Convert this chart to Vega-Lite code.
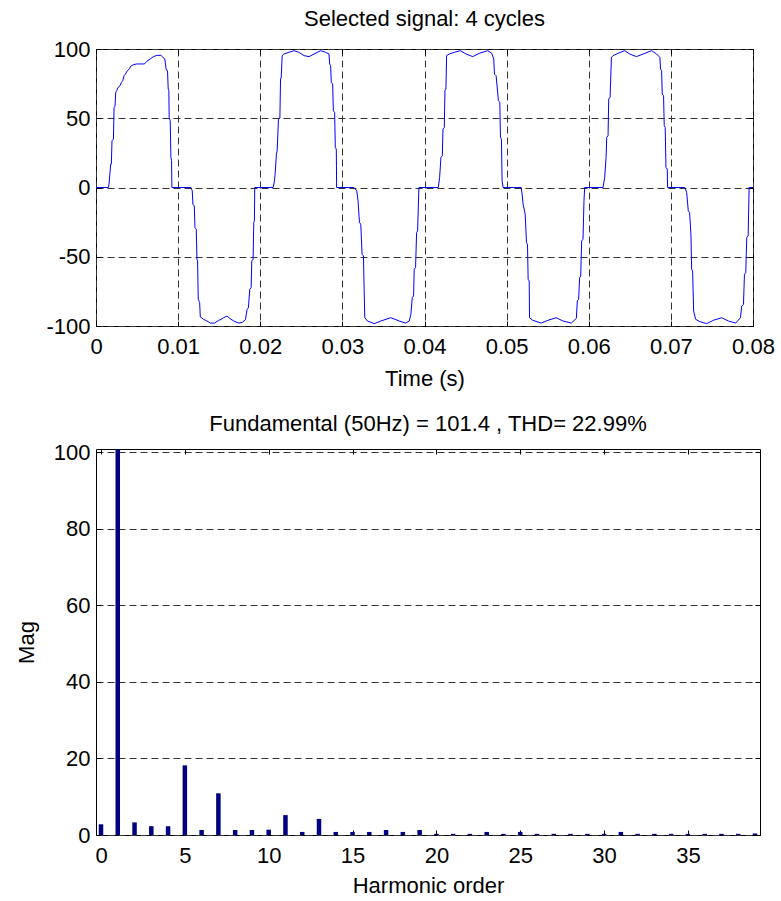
{
  "$schema": "https://vega.github.io/schema/vega-lite/v6.json",
  "background": "white",
  "padding": {"left": 14, "top": 7, "right": 5, "bottom": 5},
  "spacing": 123,
  "bounds": "flush",
  "config": {
    "font": "Liberation Sans",
    "view": {"stroke": "black", "strokeWidth": 1},
    "axis": {
      "labelFont": "Liberation Sans", "labelFontSize": 22, "labelColor": "black", "labelFlush": false,
      "titleFont": "Liberation Sans", "titleFontSize": 22, "titleFontWeight": "normal", "titleColor": "black",
      "tickColor": "black", "tickSize": -5,
      "domain": false,
      "gridColor": "#333333", "gridDash": [7, 4], "gridOpacity": 1, "gridWidth": 1
    },
    "axisX": {"labelPadding": 15},
    "axisY": {"labelPadding": 11},
    "title": {"font": "Liberation Sans", "fontSize": 22, "fontWeight": "normal", "color": "black", "anchor": "middle"}
  },
  "vconcat": [
    {
      "width": 657,
      "height": 277,
      "title": {"text": "Selected signal: 4 cycles", "offset": 7},
      "data": {"values": [
        {"t":0,"v":0},{"t":0.00151,"v":0},{"t":0.00159,"v":2.4},{"t":0.00179,"v":16.9},{"t":0.00187,"v":16.9},{"t":0.00195,"v":33.7},{"t":0.00212,"v":34.9},{"t":0.0022,"v":57.8},{"t":0.00232,"v":58.8},{"t":0.0024,"v":68.7},{"t":0.00252,"v":69.9},{"t":0.00269,"v":72.3},{"t":0.00293,"v":73.5},{"t":0.00309,"v":75.9},{"t":0.00326,"v":77.1},{"t":0.00342,"v":80.7},{"t":0.00358,"v":81.9},{"t":0.00383,"v":84.4},{"t":0.00407,"v":85.6},{"t":0.00423,"v":87.6},{"t":0.00456,"v":88.7},{"t":0.00497,"v":89.2},{"t":0.0059,"v":89.2},{"t":0.00619,"v":91.1},{"t":0.00659,"v":92.8},{"t":0.007,"v":94.5},{"t":0.00741,"v":95.4},{"t":0.0079,"v":95.4},{"t":0.00814,"v":94.0},{"t":0.00838,"v":92.8},{"t":0.00855,"v":84.8},{"t":0.00871,"v":84.4},{"t":0.00879,"v":71.1},{"t":0.00887,"v":69.9},{"t":0.00891,"v":50.6},{"t":0.00904,"v":48.2},{"t":0.00912,"v":21.7},{"t":0.0092,"v":19.3},{"t":0.00924,"v":0},{"t":0.01156,"v":0},{"t":0.01172,"v":-2.4},{"t":0.0118,"v":-12.1},{"t":0.01197,"v":-13.3},{"t":0.01205,"v":-28.9},{"t":0.01221,"v":-30.1},{"t":0.01229,"v":-51.8},{"t":0.01237,"v":-53.0},{"t":0.01245,"v":-80.7},{"t":0.01262,"v":-83.1},{"t":0.0127,"v":-93.5},{"t":0.01311,"v":-95.2},{"t":0.01351,"v":-96.4},{"t":0.01392,"v":-97.9},{"t":0.01441,"v":-97.9},{"t":0.01494,"v":-96.0},{"t":0.01555,"v":-94.0},{"t":0.01595,"v":-92.8},{"t":0.01628,"v":-94.5},{"t":0.01677,"v":-96.4},{"t":0.01738,"v":-97.9},{"t":0.01779,"v":-97.4},{"t":0.01819,"v":-95.5},{"t":0.0184,"v":-88.0},{"t":0.01856,"v":-86.8},{"t":0.01872,"v":-73.5},{"t":0.01889,"v":-72.3},{"t":0.01897,"v":-53.0},{"t":0.01913,"v":-51.8},{"t":0.01921,"v":-25.3},{"t":0.01929,"v":-24.1},{"t":0.01933,"v":0},
        {"t":0.02157,"v":0},{"t":0.02173,"v":4.8},{"t":0.02181,"v":9.6},{"t":0.02197,"v":24.1},{"t":0.02206,"v":26.5},{"t":0.02222,"v":49.4},{"t":0.02239,"v":50.1},{"t":0.02247,"v":78.3},{"t":0.02255,"v":79.1},{"t":0.02267,"v":95.2},{"t":0.02288,"v":96.4},{"t":0.02349,"v":97.6},{"t":0.0241,"v":98.8},{"t":0.02471,"v":97.6},{"t":0.02533,"v":95.2},{"t":0.02594,"v":94.5},{"t":0.02655,"v":96.4},{"t":0.02736,"v":98.8},{"t":0.02796,"v":97.6},{"t":0.02837,"v":96.4},{"t":0.02845,"v":89.2},{"t":0.02857,"v":88.0},{"t":0.02865,"v":75.9},{"t":0.02882,"v":74.7},{"t":0.0289,"v":55.4},{"t":0.02906,"v":54.2},{"t":0.02914,"v":28.9},{"t":0.02926,"v":27.7},{"t":0.0293,"v":0},{"t":0.03142,"v":0},{"t":0.03175,"v":-2.4},{"t":0.03191,"v":-9.6},{"t":0.03208,"v":-25.3},{"t":0.03224,"v":-26.5},{"t":0.0324,"v":-48.2},{"t":0.03257,"v":-49.4},{"t":0.03265,"v":-73.5},{"t":0.03273,"v":-94.0},{"t":0.03305,"v":-96.4},{"t":0.03387,"v":-98.3},{"t":0.03468,"v":-96.4},{"t":0.0359,"v":-94.0},{"t":0.03692,"v":-96.4},{"t":0.03773,"v":-97.9},{"t":0.03814,"v":-96.4},{"t":0.03834,"v":-91.6},{"t":0.03851,"v":-79.5},{"t":0.03867,"v":-78.3},{"t":0.03875,"v":-59.0},{"t":0.03891,"v":-57.8},{"t":0.03904,"v":-32.5},{"t":0.03916,"v":-31.3},{"t":0.03932,"v":0},
        {"t":0.04168,"v":0},{"t":0.04184,"v":7.2},{"t":0.042,"v":21.7},{"t":0.04217,"v":22.9},{"t":0.04225,"v":42.2},{"t":0.04241,"v":43.4},{"t":0.04249,"v":69.9},{"t":0.04261,"v":71.1},{"t":0.04269,"v":95.2},{"t":0.04302,"v":96.4},{"t":0.04363,"v":97.6},{"t":0.04436,"v":98.8},{"t":0.04506,"v":96.4},{"t":0.04587,"v":94.5},{"t":0.04668,"v":96.9},{"t":0.0477,"v":98.8},{"t":0.04819,"v":96.9},{"t":0.04843,"v":92.8},{"t":0.04852,"v":81.9},{"t":0.04872,"v":80.7},{"t":0.049,"v":62.7},{"t":0.04917,"v":61.5},{"t":0.04925,"v":36.2},{"t":0.04937,"v":34.9},{"t":0.04945,"v":4.8},{"t":0.04957,"v":0},{"t":0.05177,"v":0},{"t":0.05189,"v":-4.8},{"t":0.05201,"v":-12.1},{"t":0.05226,"v":-19.3},{"t":0.05242,"v":-39.8},{"t":0.05254,"v":-41.0},{"t":0.05262,"v":-66.3},{"t":0.05275,"v":-67.5},{"t":0.05279,"v":-94.0},{"t":0.05319,"v":-95.9},{"t":0.05421,"v":-97.9},{"t":0.05503,"v":-95.9},{"t":0.05604,"v":-94.0},{"t":0.05686,"v":-96.4},{"t":0.05788,"v":-97.9},{"t":0.05849,"v":-94.5},{"t":0.05861,"v":-81.9},{"t":0.05877,"v":-80.7},{"t":0.05889,"v":-65.1},{"t":0.05902,"v":-63.9},{"t":0.05914,"v":-38.6},{"t":0.0593,"v":-37.4},{"t":0.05942,"v":-9.6},{"t":0.0595,"v":0},
        {"t":0.06174,"v":0},{"t":0.06194,"v":7.2},{"t":0.06211,"v":21.7},{"t":0.06219,"v":36.2},{"t":0.06235,"v":37.4},{"t":0.06243,"v":63.9},{"t":0.0626,"v":65.1},{"t":0.06276,"v":94.0},{"t":0.06296,"v":95.2},{"t":0.06357,"v":96.9},{"t":0.06438,"v":98.8},{"t":0.06499,"v":96.4},{"t":0.06581,"v":94.5},{"t":0.06663,"v":96.4},{"t":0.06764,"v":98.8},{"t":0.06826,"v":96.4},{"t":0.06866,"v":94.0},{"t":0.06874,"v":85.6},{"t":0.06887,"v":84.4},{"t":0.06895,"v":67.5},{"t":0.06911,"v":66.3},{"t":0.06919,"v":44.6},{"t":0.06931,"v":43.4},{"t":0.0694,"v":14.5},{"t":0.06956,"v":13.3},{"t":0.0696,"v":0},{"t":0.07171,"v":0},{"t":0.07192,"v":-3.6},{"t":0.07212,"v":-16.9},{"t":0.07228,"v":-18.1},{"t":0.07244,"v":-33.7},{"t":0.07253,"v":-59.0},{"t":0.07265,"v":-60.3},{"t":0.07277,"v":-89.2},{"t":0.07302,"v":-95.2},{"t":0.07355,"v":-96.9},{"t":0.07436,"v":-98.3},{"t":0.07517,"v":-95.9},{"t":0.07619,"v":-94.0},{"t":0.077,"v":-96.4},{"t":0.0779,"v":-97.9},{"t":0.07847,"v":-94.0},{"t":0.07863,"v":-85.6},{"t":0.07884,"v":-84.4},{"t":0.07896,"v":-62.7},{"t":0.07912,"v":-61.5},{"t":0.07924,"v":-36.2},{"t":0.07941,"v":-34.9},{"t":0.07953,"v":0},{"t":0.08,"v":0}
      ]},
      "layer": [
        {
          "mark": {"type": "line", "color": "#0000FF", "strokeWidth": 1, "clip": true},
          "encoding": {
            "x": {"field": "t", "type": "quantitative", "scale": {"domain": [0, 0.08], "nice": false, "zero": false},
                  "axis": {"values": [0, 0.01, 0.02, 0.03, 0.04, 0.05, 0.06, 0.07, 0.08], "labelExpr": "'' + datum.value", "title": "Time (s)", "titlePadding": 11, "grid": true}},
            "y": {"field": "v", "type": "quantitative", "scale": {"domain": [-100, 100], "nice": false},
                  "axis": {"values": [-100, -50, 0, 50, 100], "labelExpr": "'' + datum.value", "title": null, "grid": true}}
          }
        },
        {
          "mark": {"type": "point", "opacity": 0},
          "encoding": {
            "x": {"field": "t", "type": "quantitative", "scale": {"domain": [0, 0.08], "nice": false, "zero": false},
                  "axis": {"orient": "top", "values": [0, 0.01, 0.02, 0.03, 0.04, 0.05, 0.06, 0.07, 0.08], "labels": false, "title": null, "grid": false}},
            "y": {"field": "v", "type": "quantitative", "scale": {"domain": [-100, 100], "nice": false},
                  "axis": {"orient": "right", "values": [-100, -50, 0, 50, 100], "labels": false, "title": null, "grid": false}}
          }
        }
      ],
      "resolve": {"axis": {"x": "independent", "y": "independent"}}
    },
    {
      "width": 664,
      "height": 386,
      "title": {"text": "Fundamental (50Hz) = 101.4 , THD= 22.99%", "offset": 5},
      "data": {"values": [
        {"h":0,"mag":2.8},{"h":1,"mag":101.4},{"h":2,"mag":3.3},{"h":3,"mag":2.3},{"h":4,"mag":2.3},{"h":5,"mag":18.2},{"h":6,"mag":1.3},{"h":7,"mag":10.9},{"h":8,"mag":1.3},{"h":9,"mag":1.3},
        {"h":10,"mag":1.4},{"h":11,"mag":5.2},{"h":12,"mag":0.8},{"h":13,"mag":4.2},{"h":14,"mag":0.8},{"h":15,"mag":0.8},{"h":16,"mag":0.8},{"h":17,"mag":1.3},{"h":18,"mag":0.8},{"h":19,"mag":1.3},
        {"h":20,"mag":0.3},{"h":21,"mag":0.3},{"h":22,"mag":0.3},{"h":23,"mag":0.8},{"h":24,"mag":0.3},{"h":25,"mag":0.8},{"h":26,"mag":0.3},{"h":27,"mag":0.3},{"h":28,"mag":0.3},{"h":29,"mag":0.3},
        {"h":30,"mag":0.3},{"h":31,"mag":0.8},{"h":32,"mag":0.3},{"h":33,"mag":0.3},{"h":34,"mag":0.3},{"h":35,"mag":0.3},{"h":36,"mag":0.3},{"h":37,"mag":0.3},{"h":38,"mag":0.3},{"h":39,"mag":0.4}
      ]},
      "layer": [
        {
          "mark": {"type": "bar", "color": "#000080", "size": 4.5, "clip": true},
          "encoding": {
            "x": {"field": "h", "type": "quantitative", "scale": {"domain": [0, 39], "nice": false, "zero": false},
                  "axis": {"values": [0, 5, 10, 15, 20, 25, 30, 35], "title": "Harmonic order", "titlePadding": 9, "grid": false}},
            "y": {"field": "mag", "type": "quantitative", "scale": {"domain": [0, 100.9], "nice": false},
                  "axis": {"values": [0, 20, 40, 60, 80, 100], "title": "Mag", "titlePadding": 15, "grid": true}}
          }
        },
        {
          "mark": {"type": "point", "opacity": 0},
          "encoding": {
            "x": {"field": "h", "type": "quantitative", "scale": {"domain": [0, 39], "nice": false, "zero": false},
                  "axis": {"orient": "top", "values": [0, 5, 10, 15, 20, 25, 30, 35], "labels": false, "title": null, "grid": false}},
            "y": {"field": "mag", "type": "quantitative", "scale": {"domain": [0, 100.9], "nice": false},
                  "axis": {"orient": "right", "values": [0, 20, 40, 60, 80, 100], "labels": false, "title": null, "grid": false}}
          }
        }
      ],
      "resolve": {"axis": {"x": "independent", "y": "independent"}}
    }
  ]
}
